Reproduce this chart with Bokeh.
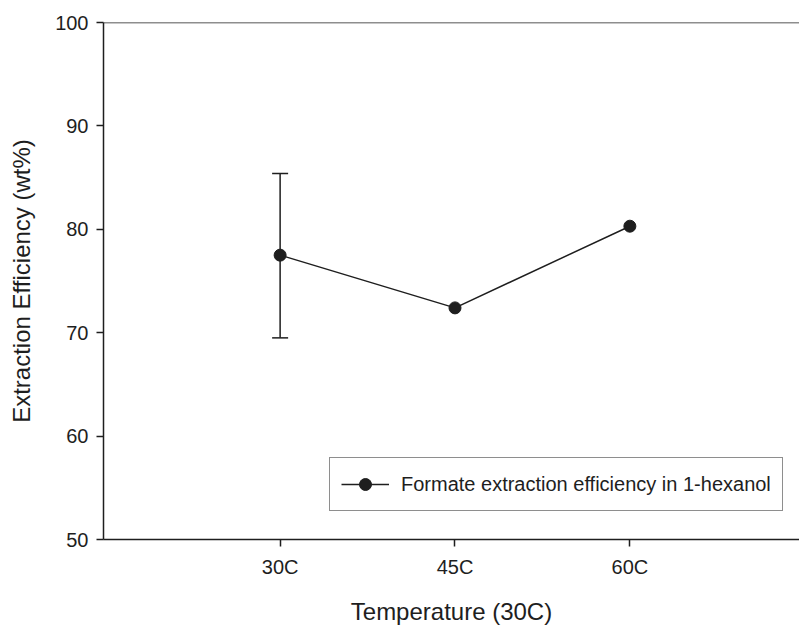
from bokeh.plotting import figure
from bokeh.models import (Range1d, FixedTicker, Whisker, TeeHead, ColumnDataSource,
                          Legend, LegendItem, Span)
from bokeh.embed import file_html
from bokeh.resources import INLINE

categories = ["30C", "45C", "60C"]
efficiency = [77.5, 72.4, 80.3]
err_categories = ["30C"]
err_lower = [69.5]
err_upper = [85.4]
y_ticks = [50, 60, 70, 80, 90, 100]

x_pos = [categories.index(c) + 1 for c in categories]
err_x = [categories.index(c) + 1 for c in err_categories]

FONT = "Liberation Sans"
INK = "#1e1e1e"

p = figure(frame_width=696, frame_height=517, output_backend="svg", toolbar_location=None,
           x_range=Range1d(-0.01, 3.97), y_range=Range1d(50, 100),
           min_border_left=103, min_border_right=0, min_border_top=22, min_border_bottom=87)
p.outline_line_color = None
p.xgrid.visible = False
p.ygrid.visible = False
p.background_fill_color = "white"
p.border_fill_color = "white"

p.add_layout(Span(location=100, dimension="width", line_color=INK, line_width=1.5))

for ax in (p.xaxis[0], p.yaxis[0]):
    ax.axis_line_color = INK
    ax.axis_line_width = 1.5
    ax.major_tick_line_color = INK
    ax.major_tick_line_width = 1.5
    ax.major_tick_in = 0
    ax.major_tick_out = 7
    ax.minor_tick_line_color = None
    ax.major_label_text_font = FONT
    ax.major_label_text_font_size = "20px"
    ax.major_label_text_color = INK
    ax.axis_label_text_font = FONT
    ax.axis_label_text_font_size = "24px"
    ax.axis_label_text_font_style = "normal"
    ax.axis_label_text_color = INK

p.xaxis.ticker = FixedTicker(ticks=x_pos)
p.xaxis.major_label_overrides = {x: c for x, c in zip(x_pos, categories)}
p.xaxis.axis_label = "Temperature (30C)"
p.xaxis.major_label_standoff = 9
p.xaxis.axis_label_standoff = 17

p.yaxis.ticker = FixedTicker(ticks=y_ticks)
p.yaxis.axis_label = "Extraction Efficiency (wt%)"
p.yaxis.major_label_standoff = 8
p.yaxis.axis_label_standoff = 17

err_src = ColumnDataSource(dict(x=err_x, lower=err_lower, upper=err_upper))
w = Whisker(source=err_src, base="x", lower="lower", upper="upper", dimension="height",
            line_color=INK, line_width=1.5,
            upper_head=TeeHead(size=16, line_color=INK, line_width=1.5),
            lower_head=TeeHead(size=16, line_color=INK, line_width=1.5))
p.add_layout(w)

src = ColumnDataSource(dict(x=x_pos, y=efficiency))
ln = p.line("x", "y", source=src, line_color=INK, line_width=1.5)
pt = p.scatter("x", "y", source=src, size=12, fill_color=INK, line_color=INK)

legend = Legend(items=[LegendItem(label="Formate extraction efficiency in 1-hexanol", renderers=[ln, pt])],
                location=(226, 28), margin=0, padding=11, glyph_width=48, glyph_height=30,
                label_standoff=12, label_text_font=FONT, label_text_font_size="20px",
                label_text_color=INK, border_line_color=INK, border_line_width=1.5,
                background_fill_color="white", background_fill_alpha=1.0)
p.add_layout(legend)

open("out.html", "w").write(file_html(p, INLINE))
